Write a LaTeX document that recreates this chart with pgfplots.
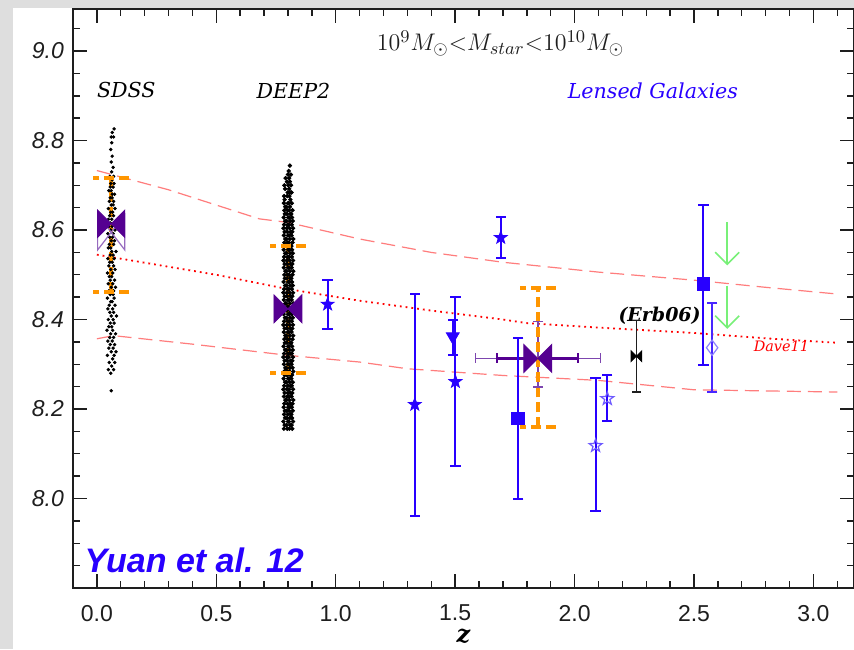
\documentclass[border=0pt]{standalone}
\usepackage{pgfplots}
\pgfplotsset{compat=1.18}
\usepackage{pgfplotstable}
\usepackage{fontspec}
\setmainfont{Liberation Sans}
\newfontfamily\hfont{DejaVu Serif}
\usetikzlibrary{arrows.meta}
\definecolor{lblue}{RGB}{40,0,255}
\definecolor{ostarc}{RGB}{110,90,255}
\definecolor{diamc}{RGB}{140,130,255}
\definecolor{dpurple}{RGB}{85,0,145}
\definecolor{lpurple}{RGB}{125,70,175}
\definecolor{orng}{RGB}{255,150,0}
\definecolor{dave}{RGB}{255,125,125}
\definecolor{lgreen}{RGB}{120,240,120}
\definecolor{bggray}{RGB}{222,222,222}
\definecolor{axgray}{RGB}{30,30,30}

\pgfdeclareplotmark{bowtie}{%
  \pgfpathmoveto{\pgfqpoint{-\pgfplotmarksize}{\pgfplotmarksize}}%
  \pgfpathlineto{\pgfqpoint{0pt}{0pt}}%
  \pgfpathlineto{\pgfqpoint{-\pgfplotmarksize}{-\pgfplotmarksize}}%
  \pgfpathclose
  \pgfpathmoveto{\pgfqpoint{\pgfplotmarksize}{\pgfplotmarksize}}%
  \pgfpathlineto{\pgfqpoint{0pt}{0pt}}%
  \pgfpathlineto{\pgfqpoint{\pgfplotmarksize}{-\pgfplotmarksize}}%
  \pgfpathclose
  \pgfusepathqfillstroke}
\pgfdeclareplotmark{bowtieo}{%
  \pgfpathmoveto{\pgfqpoint{-\pgfplotmarksize}{1.3\pgfplotmarksize}}%
  \pgfpathlineto{\pgfqpoint{0pt}{0pt}}%
  \pgfpathlineto{\pgfqpoint{-\pgfplotmarksize}{-1.3\pgfplotmarksize}}%
  \pgfpathclose
  \pgfpathmoveto{\pgfqpoint{\pgfplotmarksize}{1.3\pgfplotmarksize}}%
  \pgfpathlineto{\pgfqpoint{0pt}{0pt}}%
  \pgfpathlineto{\pgfqpoint{\pgfplotmarksize}{-1.3\pgfplotmarksize}}%
  \pgfpathclose
  \pgfusepathqstroke}
\pgfdeclareplotmark{fstar}{%
  \pgfpathmoveto{\pgfpointpolar{90}{\pgfplotmarksize}}%
  \pgfpathlineto{\pgfpointpolar{54}{0.4\pgfplotmarksize}}%
  \pgfpathlineto{\pgfpointpolar{18}{\pgfplotmarksize}}%
  \pgfpathlineto{\pgfpointpolar{-18}{0.4\pgfplotmarksize}}%
  \pgfpathlineto{\pgfpointpolar{-54}{\pgfplotmarksize}}%
  \pgfpathlineto{\pgfpointpolar{-90}{0.4\pgfplotmarksize}}%
  \pgfpathlineto{\pgfpointpolar{-126}{\pgfplotmarksize}}%
  \pgfpathlineto{\pgfpointpolar{-162}{0.4\pgfplotmarksize}}%
  \pgfpathlineto{\pgfpointpolar{162}{\pgfplotmarksize}}%
  \pgfpathlineto{\pgfpointpolar{126}{0.4\pgfplotmarksize}}%
  \pgfpathclose
  \pgfusepathqfillstroke}
\pgfdeclareplotmark{ostar}{%
  \pgfpathmoveto{\pgfpointpolar{90}{\pgfplotmarksize}}%
  \pgfpathlineto{\pgfpointpolar{54}{0.4\pgfplotmarksize}}%
  \pgfpathlineto{\pgfpointpolar{18}{\pgfplotmarksize}}%
  \pgfpathlineto{\pgfpointpolar{-18}{0.4\pgfplotmarksize}}%
  \pgfpathlineto{\pgfpointpolar{-54}{\pgfplotmarksize}}%
  \pgfpathlineto{\pgfpointpolar{-90}{0.4\pgfplotmarksize}}%
  \pgfpathlineto{\pgfpointpolar{-126}{\pgfplotmarksize}}%
  \pgfpathlineto{\pgfpointpolar{-162}{0.4\pgfplotmarksize}}%
  \pgfpathlineto{\pgfpointpolar{162}{\pgfplotmarksize}}%
  \pgfpathlineto{\pgfpointpolar{126}{0.4\pgfplotmarksize}}%
  \pgfpathclose
  \pgfusepathqstroke}

% SDSS scatter
\pgfplotstableread{
y a b
8.241 0.060 nan
8.280 0.058 nan
8.288 0.070 0.048
8.296 0.062 nan
8.304 0.052 0.075
8.312 0.066 nan
8.320 0.044 0.072
8.328 0.060 0.080
8.336 0.050 0.068
8.344 0.074 0.056
8.352 0.046 0.064
8.360 0.070 0.054
8.368 0.058 0.078
8.376 0.042 0.066
8.384 0.062 0.050
8.392 0.072 0.056
8.400 0.048 0.068
8.408 0.060 0.082
8.416 0.054 0.070
8.424 0.066 0.046
8.432 0.052 0.076
8.440 0.064 0.058
8.448 0.044 0.072
8.456 0.056 0.068
8.464 0.070 0.050
8.472 0.060 0.078
8.480 0.048 0.066
8.488 0.074 0.056
8.496 0.052 0.062
8.504 0.066 0.044
8.512 0.058 0.076
8.520 0.050 0.070
8.528 0.064 0.054
8.536 0.072 0.046
8.544 0.056 0.068
8.552 0.062 0.080
8.560 0.048 0.058
8.568 0.070 0.052
8.576 0.060 0.074
8.584 0.054 0.066
8.592 0.068 0.046
8.600 0.058 0.076
8.608 0.050 0.064
8.616 0.072 0.056
8.624 0.062 0.048
8.632 0.054 0.070
8.640 0.066 0.058
8.648 0.048 0.076
8.656 0.060 0.068
8.664 0.070 0.052
8.672 0.056 0.064
8.680 0.064 0.074
8.688 0.050 0.060
8.696 0.068 0.056
8.704 0.058 0.072
8.712 0.064 nan
8.720 0.054 0.070
8.730 0.062 nan
8.740 0.068 nan
8.752 0.060 nan
8.765 0.064 nan
8.780 0.058 nan
8.795 0.062 nan
8.808 0.070 0.060
8.818 0.064 nan
8.826 0.072 nan
}\sdss

% DEEP2 scatter
\pgfplotstableread{
y a b c d
8.156 0.783 0.797 0.806 0.818
8.164 0.786 0.794 0.809 0.815
8.172 0.781 0.800 0.804 0.821
8.180 0.788 0.796 0.808 0.817
8.188 0.784 0.799 0.811 0.814
8.196 0.787 0.795 0.805 0.820
8.204 0.782 0.801 0.807 0.816
8.212 0.785 0.798 0.810 0.819
8.220 0.789 0.793 0.806 0.822
8.228 0.783 0.797 0.803 0.815
8.236 0.786 0.800 0.809 0.818
8.244 0.781 0.795 0.805 0.821
8.252 0.784 0.799 0.811 0.816
8.260 0.788 0.794 0.807 0.820
8.268 0.782 0.801 0.804 0.814
8.276 0.787 0.796 0.810 0.817
8.284 0.785 0.798 0.806 0.822
8.292 0.789 0.793 0.808 0.819
8.300 0.783 0.800 0.805 0.815
8.308 0.786 0.797 0.811 0.818
8.316 0.781 0.795 0.803 0.821
8.324 0.784 0.799 0.809 0.816
8.332 0.788 0.794 0.807 0.820
8.340 0.782 0.801 0.805 0.817
8.348 0.787 0.796 0.810 0.814
8.356 0.785 0.798 0.806 0.819
8.364 0.789 0.793 0.808 0.822
8.372 0.783 0.800 0.804 0.815
8.380 0.786 0.797 0.811 0.818
8.388 0.781 0.795 0.807 0.821
8.396 0.784 0.799 0.805 0.816
8.404 0.788 0.794 0.809 0.820
8.412 0.782 0.801 0.806 0.817
8.420 0.787 0.796 0.810 0.814
8.428 0.785 0.798 0.803 0.819
8.436 0.789 0.793 0.808 0.822
8.444 0.783 0.800 0.805 0.815
8.452 0.786 0.797 0.811 0.818
8.460 0.781 0.795 0.807 0.821
8.468 0.784 0.799 0.804 0.816
8.476 0.788 0.794 0.809 0.820
8.484 0.782 0.801 0.806 0.817
8.492 0.787 0.796 0.810 0.814
8.500 0.785 0.798 0.805 0.819
8.508 0.789 0.793 0.808 0.822
8.516 0.783 0.800 0.803 0.815
8.524 0.786 0.797 0.811 0.818
8.532 0.781 0.795 0.807 0.821
8.540 0.784 0.799 0.805 0.816
8.548 0.788 0.794 0.809 0.820
8.556 0.782 0.801 0.806 0.817
8.564 0.787 0.796 0.810 0.814
8.572 0.785 0.798 0.804 0.819
8.580 0.789 0.793 0.808 0.822
8.588 0.783 0.800 0.805 0.815
8.596 0.786 0.797 0.811 0.818
8.604 0.781 0.795 0.807 0.821
8.612 0.784 0.799 0.803 0.816
8.620 0.788 0.794 0.809 0.820
8.628 0.782 0.801 0.806 0.817
8.636 0.787 0.796 0.810 0.814
8.644 0.785 0.798 0.805 0.819
8.652 0.789 0.793 0.808 nan
8.660 0.783 0.800 0.804 0.816
8.668 0.786 nan 0.810 nan
8.676 0.784 0.797 0.806 nan
8.684 nan 0.799 0.809 0.815
8.692 0.788 nan 0.805 nan
8.700 0.785 0.801 nan 0.813
8.708 nan 0.796 0.808 nan
8.716 0.790 nan 0.805 nan
8.724 nan 0.800 nan 0.812
8.732 nan 0.803 nan nan
8.744 nan nan 0.808 nan
}\deep

\begin{document}
\begin{tikzpicture}
\fill[bggray] (-36.5pt,-30.5pt) rectangle (390.5pt,294pt);
\fill[white] (-30pt,-30.5pt) rectangle (390.5pt,289.8pt);
\begin{axis}[
  at={(0,0)}, anchor=south west,
  scale only axis, width=390.5pt, height=289.5pt,
  xmin=-0.1, xmax=3.17, ymin=7.8, ymax=9.094,
  xtick={0,0.5,1.0,1.5,2.0,2.5,3.0},
  ytick={8.0,8.2,8.4,8.6,8.8,9.0},
  minor xtick={0.1,0.2,0.3,0.4,0.6,0.7,0.8,0.9,1.1,1.2,1.3,1.4,1.6,1.7,1.8,1.9,2.1,2.2,2.3,2.4,2.6,2.7,2.8,2.9,3.1},
  minor ytick={7.85,7.9,7.95,8.05,8.1,8.15,8.25,8.3,8.35,8.45,8.5,8.55,8.65,8.7,8.75,8.85,8.9,8.95,9.05},
  tick align=inside, tick pos=both,
  major tick length=7pt, minor tick length=3.5pt,
  axis line style={axgray, line width=1pt},
  tick style={axgray, line width=0.7pt},
  /pgf/number format/assume math mode=true,
  xticklabel style={/pgf/number format/fixed, /pgf/number format/fixed zerofill, /pgf/number format/precision=1, font=\fontsize{11.5}{12}\selectfont, text=axgray, yshift=-5pt},
  yticklabel style={/pgf/number format/fixed, /pgf/number format/fixed zerofill, /pgf/number format/precision=1, font=\fontsize{11.5}{12}\selectfont\itshape, text=axgray, xshift=-1pt},
  xlabel={z},
  xlabel style={font=\hfont\bfseries\itshape\fontsize{12}{12}\selectfont, inner sep=0pt, yshift=-0.5pt},
  clip=false,
]
% Dave11 model lines
\addplot[dave, line width=0.6pt, dash pattern=on 7pt off 3.5pt] coordinates {(0,8.733)(0.3,8.69)(0.68,8.625)(0.8,8.617)(1.1,8.58)(1.4,8.55)(1.7,8.528)(2.1,8.506)(2.5,8.488)(2.8,8.472)(3.1,8.457)};
\addplot[dave, line width=0.6pt, dash pattern=on 7pt off 3.5pt] coordinates {(0,8.357)(0.07,8.364)(0.4,8.345)(0.8,8.32)(1.1,8.305)(1.3,8.29)(1.7,8.275)(2.1,8.264)(2.5,8.243)(3.1,8.238)};
\addplot[red, line width=0.9pt, dash pattern=on 0.9pt off 2pt] coordinates {(0,8.545)(0.5,8.50)(0.8,8.468)(1.1,8.442)(1.4,8.42)(1.7,8.40)(1.8,8.392)(2.1,8.382)(2.5,8.37)(2.8,8.358)(3.1,8.348)};

% SDSS scatter
\addplot[only marks, mark=*, mark size=0.65pt, black] table[x=a,y=y]{\sdss};
\addplot[only marks, mark=*, mark size=0.65pt, black] table[x=b,y=y]{\sdss};
% DEEP2 scatter
\addplot[only marks, mark=*, mark size=0.9pt, black] table[x=a,y=y]{\deep};
\addplot[only marks, mark=*, mark size=0.9pt, black] table[x=b,y=y]{\deep};
\addplot[only marks, mark=*, mark size=0.9pt, black] table[x=c,y=y]{\deep};
\addplot[only marks, mark=*, mark size=0.9pt, black] table[x=d,y=y]{\deep};

% SDSS / DEEP2 median bowties
\addplot[only marks, mark=bowtieo, mark size=6.8pt, lpurple!80, line width=0.6pt] coordinates {(0.06,8.595)};
\addplot[only marks, mark=bowtie, mark size=6.8pt, dpurple, fill=dpurple] coordinates {(0.06,8.614)};
\addplot[only marks, mark=bowtie, mark size=7pt, dpurple, fill=dpurple] coordinates {(0.80,8.424)};

% lensed stack: purple error bars (lower and upper ends from the picture)
\addplot[lpurple, line width=0.8pt, mark=|, mark size=2.5pt] coordinates {(1.585,8.313)(2.108,8.313)};
\addplot[dpurple, line width=1.6pt, mark=|, mark size=2.5pt, mark options={line width=0.9pt}] coordinates {(1.676,8.313)(2.015,8.313)};
\addplot[lpurple, line width=0.8pt, mark=-, mark size=2.5pt] coordinates {(1.846,8.249)(1.846,8.396)};
\addplot[only marks, mark=bowtie, mark size=7pt, dpurple, fill=dpurple] coordinates {(1.846,8.313)};

% orange dashed ranges
\addplot[orng, line width=2pt, dash pattern=on 5pt off 2.5pt, mark=-, mark size=9pt] coordinates {(0.06,8.461)(0.06,8.717)};
\addplot[orng, line width=2pt, dash pattern=on 5pt off 2.5pt, mark=-, mark size=9pt] coordinates {(0.80,8.281)(0.80,8.564)};
\addplot[orng, line width=2pt, dash pattern=on 5pt off 2.5pt, mark=-, mark size=9pt] coordinates {(1.846,8.159)(1.846,8.470)};

% lensed galaxies: error bars (low, high)
\addplot[lblue, line width=1pt, mark=-, mark size=2.6pt] coordinates {(0.966,8.378)(0.966,8.489)};
\addplot[lblue, line width=1pt, mark=-, mark size=2.6pt] coordinates {(1.331,7.960)(1.331,8.457)};
\addplot[lblue, line width=1pt, mark=-, mark size=2.6pt] coordinates {(1.501,8.072)(1.501,8.451)};
\addplot[lblue, line width=1pt, mark=-, mark size=2.6pt] coordinates {(1.691,8.538)(1.691,8.629)};
\addplot[lblue, line width=1pt, mark=-, mark size=2.6pt] coordinates {(1.49,8.320)(1.49,8.399)};
\addplot[lblue, line width=1pt, mark=-, mark size=2.6pt] coordinates {(1.764,7.998)(1.764,8.358)};
\addplot[lblue, line width=1pt, mark=-, mark size=2.6pt] coordinates {(2.539,8.299)(2.539,8.657)};
\addplot[lblue, line width=1pt, mark=-, mark size=2.6pt] coordinates {(2.088,7.972)(2.088,8.269)};
\addplot[lblue, line width=1pt, mark=-, mark size=2.6pt] coordinates {(2.137,8.173)(2.137,8.275)};
\addplot[lblue!85, line width=1pt, mark=-, mark size=2.6pt] coordinates {(2.576,8.238)(2.576,8.436)};
\addplot[axgray, line width=0.9pt, mark=-, mark size=2.4pt] coordinates {(2.259,8.238)(2.259,8.398)};

% lensed galaxies: markers
\addplot[only marks, mark=fstar, mark size=3.4pt, lblue, fill=lblue] coordinates {(0.966,8.434)(1.331,8.210)(1.501,8.261)(1.691,8.583)};
\addplot[only marks, mark=triangle*, mark size=3.7pt, mark options={rotate=180}, lblue, fill=lblue] coordinates {(1.49,8.362)};
\addplot[only marks, mark=square*, mark size=3.2pt, lblue, fill=lblue] coordinates {(1.764,8.179)(2.539,8.480)};
\addplot[only marks, mark=ostar, mark size=3.4pt, ostarc, line width=0.6pt] coordinates {(2.088,8.118)(2.137,8.223)};
\addplot[only marks, mark=diamond, mark size=3.8pt, diamc, line width=0.6pt] coordinates {(2.576,8.337)};
\addplot[only marks, mark=bowtie, mark size=2.7pt, black, fill=black] coordinates {(2.259,8.318)};
% upper limits
\addplot[lgreen, line width=0.8pt, -{Straight Barb[length=6pt,width=12pt]}, quiver={u=0, v=\thisrow{v}}] table[row sep=\\] {x y v \\ 2.639 8.617 -0.096 \\ 2.639 8.476 -0.097 \\};

% texts
\node[font=\hfont\itshape\fontsize{10.3}{12}\selectfont, text=black] at (axis cs:0.123,8.912) {SDSS};
\node[font=\hfont\itshape\fontsize{10.3}{12}\selectfont, text=black] at (axis cs:0.823,8.912) {DEEP2};
\node[font=\hfont\itshape\fontsize{10.3}{12}\selectfont, text=lblue] at (axis cs:2.328,8.912) {Lensed Galaxies};
\node[font=\fontsize{13}{14}\selectfont, text=axgray] at (axis cs:1.69,9.017) {$10^9M_\odot{<}M_{star}{<}10^{10}M_\odot$};
\node[font=\hfont\bfseries\itshape\fontsize{9.5}{11}\selectfont, text=black] at (axis cs:2.356,8.409) {(Erb06)};
\node[font=\hfont\itshape\fontsize{7.2}{8}\selectfont, text=red] at (axis cs:2.866,8.34) {Dave11};
\node[font=\bfseries\itshape\fontsize{17}{18}\selectfont, text=lblue] at (axis cs:0.408,7.861) {Yuan et al. 12};
\end{axis}
\pgfresetboundingbox
\path[use as bounding box] (-36.5pt,-30.5pt) rectangle (390.5pt,294pt);
\end{tikzpicture}
\end{document}
